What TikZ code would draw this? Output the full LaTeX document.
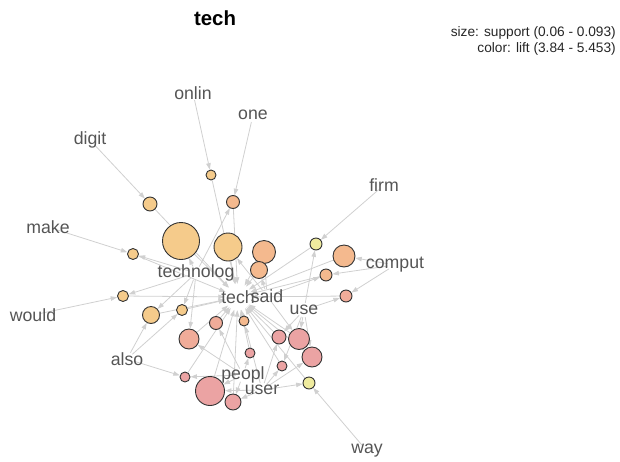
\documentclass[tikz,border=0pt]{standalone}
\usepackage{fontspec}
\setmainfont{Liberation Sans}
\usetikzlibrary{arrows.meta}
\pgfdeclarelayer{background}
\pgfsetlayers{background,main}
\definecolor{edgec}{HTML}{D0D0D0}
\definecolor{txtc}{HTML}{555555}
\definecolor{cOr}{HTML}{F5CB8B}
\definecolor{cOs}{HTML}{F4B98E}
\definecolor{cSa}{HTML}{F0AC99}
\definecolor{cPk}{HTML}{EBA3A3}
\definecolor{cYe}{HTML}{EFEB9E}
\definecolor{rimc}{HTML}{333333}
\begin{document}
\begin{tikzpicture}[x=1pt,y=-1pt,
  item/.style={circle,minimum size=14pt,inner sep=0pt},
  hub/.style={circle,minimum size=26pt,inner sep=0pt},
  itext/.style={text=txtc,font=\fontsize{17.7}{20}\selectfont,inner sep=0pt},
  rulec/.style={circle,draw=rimc,line width=0.9pt,inner sep=0pt,minimum size=#1},
  edge/.style={draw=edgec,line width=0.8pt,-{Triangle[length=6.5pt,width=4.5pt]}},
  legend/.style={anchor=east,text=black!85,font=\fontsize{13.7}{15}\selectfont,inner sep=0pt}]
\useasboundingbox (0,0) rectangle (620,461);
% title and legend
\node[font=\bfseries\fontsize{20.4}{22}\selectfont,inner sep=0pt] (title) at (215,18) {tech};
\node[legend] (leg1) at (616,33) {size: support (0.06 - 0.093)};
\node[legend] (leg2) at (616,49) {color: lift (3.84 - 5.453)};
% item nodes
\node[hub,label={[itext]center:tech}] (tech) at (238,297) {};
\node[item,label={[itext]center:technolog}] (technolog) at (196,273) {};
\node[item,label={[itext]center:said}] (said) at (267,296) {};
\node[item,label={[itext]center:use}] (use) at (304,310) {};
\node[item,label={[itext]center:peopl}] (peopl) at (243,375) {};
\node[item,label={[itext]center:user}] (user) at (262,390) {};
\node[item,label={[itext]center:onlin}] (onlin) at (193,93) {};
\node[item,label={[itext]center:one}] (one) at (253,115) {};
\node[item,label={[itext]center:digit}] (digit) at (90,140) {};
\node[item,label={[itext]center:firm}] (firm) at (384,185) {};
\node[item,label={[itext]center:make}] (make) at (48,227) {};
\node[item,label={[itext]center:comput}] (comput) at (395,265) {};
\node[item,label={[itext]center:would}] (would) at (33,315) {};
\node[item,label={[itext]center:also}] (also) at (127,359) {};
\node[item,label={[itext]center:way}] (way) at (367,451) {};
% rule nodes
\node[rulec=10pt,fill=cOr] (ro) at (211,175) {};
\node[rulec=13pt,fill=cOs] (rn) at (233,202) {};
\node[rulec=14pt,fill=cOr] (r1) at (150,204) {};
\node[rulec=37pt,fill=cOr] (r3) at (181,241) {};
\node[rulec=28pt,fill=cOr] (r4) at (228,247) {};
\node[rulec=23pt,fill=cOs] (r5) at (264,252) {};
\node[rulec=17pt,fill=cOs] (r6) at (259,270) {};
\node[rulec=12pt,fill=cYe] (r7) at (316,244) {};
\node[rulec=22pt,fill=cOs] (r8) at (344,256) {};
\node[rulec=11pt,fill=cOr] (r9) at (133,254) {};
\node[rulec=12pt,fill=cOs] (r10) at (326,275) {};
\node[rulec=11pt,fill=cOr] (r11) at (123,296) {};
\node[rulec=12pt,fill=cSa] (r12) at (346,296) {};
\node[rulec=17pt,fill=cOr] (r13) at (151,315) {};
\node[rulec=11pt,fill=cOr] (r14) at (182,310) {};
\node[rulec=13pt,fill=cSa] (r15) at (216,323) {};
\node[rulec=10pt,fill=cOs] (r16) at (244,321) {};
\node[rulec=20pt,fill=cSa] (r17) at (189,339) {};
\node[rulec=14pt,fill=cPk] (r18) at (279,337) {};
\node[rulec=21pt,fill=cPk] (r19) at (299,339) {};
\node[rulec=20pt,fill=cPk] (r20) at (312,357) {};
\node[rulec=10pt,fill=cPk] (r21) at (250,353) {};
\node[rulec=10pt,fill=cPk] (r22) at (282,366) {};
\node[rulec=10pt,fill=cPk] (r23) at (185,377) {};
\node[rulec=12pt,fill=cYe] (r24) at (309,383) {};
\node[rulec=29pt,fill=cPk] (r25) at (210,391) {};
\node[rulec=16pt,fill=cPk] (r26) at (233,402) {};
% edges
\begin{pgfonlayer}{background}
\foreach \r in {ro,rn,r1,r3,r4,r5,r6,r7,r8,r9,r10,r11,r12,r13,r14,r15,r16,r17,r18,r19,r20,r21,r22,r23,r24,r25,r26}
  \draw[edge] (\r) -- (tech);
\foreach \a/\b in {onlin/ro,one/rn,technolog/rn,digit/r1,technolog/r3,said/r4,said/r5,said/r6,
  firm/r7,use/r7,comput/r8,make/r9,technolog/r9,comput/r10,said/r10,would/r11,technolog/r11,
  comput/r12,use/r12,also/r13,technolog/r13,also/r14,technolog/r14,peopl/r15,user/r16,
  peopl/r17,technolog/r17,use/r18,user/r18,use/r19,said/r19,use/r20,user/r20,peopl/r21,
  user/r22,use/r22,also/r23,peopl/r23,way/r24,user/r24,peopl/r25,user/r25,user/r26,peopl/r26}
  \draw[edge] (\a) -- (\b);
\end{pgfonlayer}
\end{tikzpicture}
\end{document}
